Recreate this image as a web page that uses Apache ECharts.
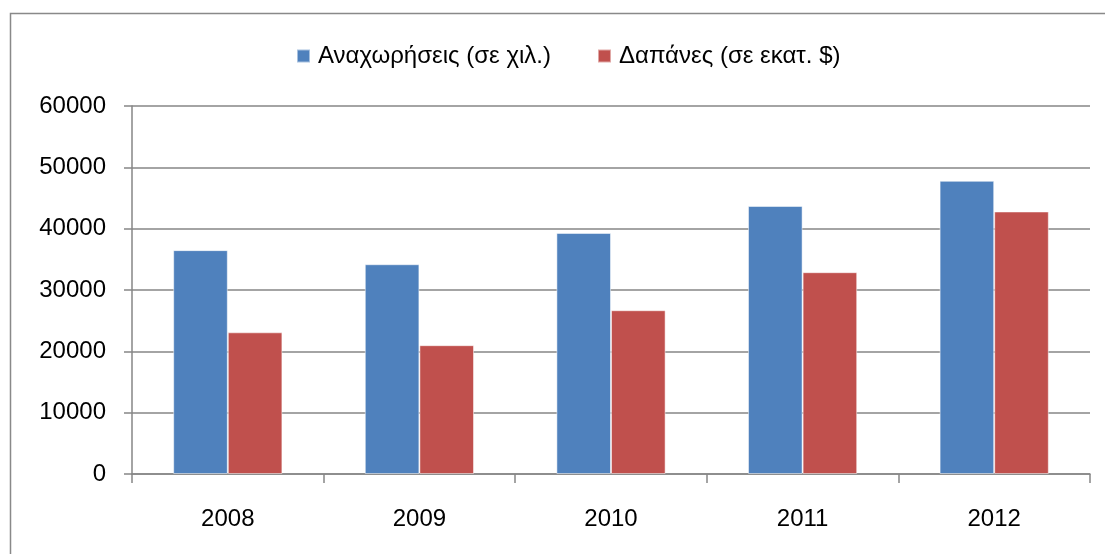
<!DOCTYPE html>
<html><head><meta charset="utf-8">
<script src="https://cdn.jsdelivr.net/npm/echarts@6/dist/echarts.min.js"></script>
<style>html,body{margin:0;padding:0;background:#fff}#c{width:1105px;height:554px}</style>
</head><body><div id="c"></div>
<script>
const categories = ['2008', '2009', '2010', '2011', '2012'];
const departures = [36500, 34200, 39300, 43700, 47800];
const spending = [23100, 21000, 26700, 32900, 42800];
const seriesNames = ['Αναχωρήσεις (σε χιλ.)', 'Δαπάνες (σε εκατ. $)'];
const FONT = "'Liberation Sans', Arial, sans-serif";
const chart = echarts.init(document.getElementById('c'));
chart.setOption({
  animation: false,
  backgroundColor: '#fff',
  graphic: [{
    type: 'rect', shape: { x: 10.5, y: 13.5, width: 1120, height: 600 },
    style: { fill: 'none', stroke: '#898989', lineWidth: 1.5 }, silent: true
  }],
  legend: {
    top: 39, left: 291, itemWidth: 13, itemHeight: 13, itemGap: 46,
    icon: 'rect',
    textStyle: { fontFamily: FONT, fontSize: 24, color: '#000', padding: [0,0,0,3] },
    data: seriesNames
  },
  grid: { left: 132, right: 15, top: 106, bottom: 80 },
  xAxis: {
    type: 'category', data: categories,
    axisLine: { lineStyle: { color: '#868686', width: 1.5 } },
    axisTick: { show: true, length: 9, lineStyle: { color: '#868686', width: 1.5 } },
    axisLabel: { fontFamily: FONT, fontSize: 24, color: '#000', margin: 33 }
  },
  yAxis: {
    type: 'value', min: 0, max: 60000, interval: 10000,
    axisLine: { show: true, lineStyle: { color: '#868686', width: 1.5 } },
    axisTick: { show: true, length: 8, lineStyle: { color: '#868686', width: 1.5 } },
    splitLine: { lineStyle: { color: '#868686', width: 1.5 } },
    axisLabel: { fontFamily: FONT, fontSize: 24, color: '#000', margin: 26, formatter: v => String(v) }
  },
  series: [
    { name: seriesNames[0], type: 'bar', data: departures, barGap: '0%', barCategoryGap: '43%',
      itemStyle: { color: '#4F81BD', borderColor: 'rgba(255,255,255,0.5)', borderWidth: 1 } },
    { name: seriesNames[1], type: 'bar', data: spending, barGap: '0%', barCategoryGap: '43%',
      itemStyle: { color: '#C0504D', borderColor: 'rgba(255,255,255,0.5)', borderWidth: 1 } }
  ]
});
</script></body></html>
